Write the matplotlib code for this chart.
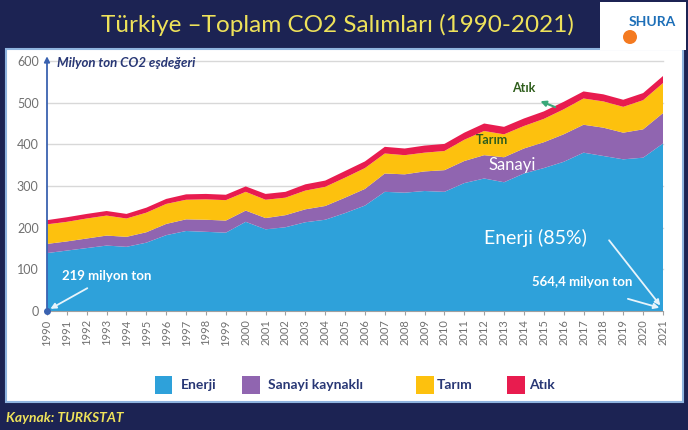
import matplotlib
matplotlib.use("Agg")
import matplotlib.pyplot as plt
from matplotlib.patches import Rectangle, Ellipse

plt.rcParams['font.family'] = ['Lato', 'DejaVu Sans']

# data (milyon ton CO2 esdegeri)
years = list(range(1990, 2022))
enerji = [139, 145, 151, 157, 154, 164, 182, 192, 190, 188, 214, 196, 201, 213, 219, 235,
          253, 286, 284, 288, 286, 307, 318, 309, 330, 343, 358, 380, 372, 364, 368, 402]
sanayi = [22, 22, 23, 24, 24, 25, 27, 28, 29, 29, 27, 27, 29, 31, 33, 37,
          40, 44, 44, 47, 52, 53, 56, 60, 60, 62, 66, 67, 68, 64, 68, 73]
tarim = [47, 47, 48, 48, 44, 47, 48, 47, 49, 49, 45, 44, 42, 45, 46, 48,
         50, 48, 46, 45, 46, 51, 58, 55, 54, 56, 60, 63, 63, 62, 70, 72]
atik = [10, 11, 11, 11, 11, 12, 12, 13, 13, 13, 13, 14, 14, 15, 15, 16,
        16, 16, 16, 17, 17, 17, 18, 18, 18, 18, 18, 17, 17, 17, 17, 17]

series_names = ['Enerji', 'Sanayi kaynaklı', 'Tarım', 'Atık']
colors = ['#2ea1da', '#9065b0', '#fdc10e', '#e81c4f']
navy = '#1c2353'
title_yellow = '#eee25a'
text_navy = '#283775'

W, H = 688, 430
fig = plt.figure(figsize=(W / 100, H / 100), dpi=100)
fig.patch.set_facecolor(navy)

def fx(px):
    return px / W

def fy(py):
    return 1 - py / H

# white panel
fig.patches.append(Rectangle((fx(6), fy(402)), fx(683) - fx(6), fy(49) - fy(402),
                             transform=fig.transFigure, facecolor='white',
                             edgecolor='#8fb4df', linewidth=1.5, zorder=0))
# logo box
fig.patches.append(Rectangle((fx(600), fy(50)), fx(686) - fx(600), fy(2) - fy(50),
                             transform=fig.transFigure, facecolor='white',
                             edgecolor='none', zorder=1))
fig.patches.append(Ellipse((fx(630), fy(37)), fx(14), 14 / H, transform=fig.transFigure,
                           facecolor='#f47a20', edgecolor='none', zorder=2))
fig.text(fx(652), fy(22), 'SHURA', color='#1d6fb8', fontsize=10, fontweight='bold',
         ha='center', va='center')

fig.text(fx(337), fy(25), 'Türkiye –Toplam CO2 Salımları (1990-2021)', color=title_yellow,
         fontsize=17.5, ha='center', va='center')

ax = fig.add_axes([fx(47), fy(311), fx(663) - fx(47), fy(61) - fy(311)])
ax.set_zorder(5)
ax.patch.set_alpha(0)
ax.stackplot(years, enerji, sanayi, tarim, atik, colors=colors, linewidth=0, zorder=2)
ax.set_xlim(1990, 2021)
ax.set_ylim(0, 600)
ax.set_yticks(range(0, 601, 100))
for v in range(100, 601, 100):
    ax.axhline(v, color='#d8d8d8', linewidth=1, zorder=1, clip_on=False)
ax.set_xticks(years)
ax.set_xticklabels([str(y) for y in years], rotation=90, fontsize=8, color='#707070')
ax.tick_params(axis='y', labelsize=9, labelcolor='#707070', length=0, pad=6)
ax.tick_params(axis='x', length=3, color='#a0a0a0', pad=3)
for s in ['top', 'right', 'left']:
    ax.spines[s].set_visible(False)
ax.spines['bottom'].set_color('#a0a0a0')

# blue y axis arrow
ax.annotate('', xy=(1990, 618), xytext=(1990, 0), annotation_clip=False,
            arrowprops=dict(arrowstyle='-|>', color='#3a62b0', lw=1.3, mutation_scale=8))
ax.plot([1990], [0], 'o', color='#3a62b0', markersize=4, clip_on=False, zorder=5)

ax.text(1990.5, 595, 'Milyon ton CO2 eşdeğeri', color=text_navy, fontsize=9.5,
        fontweight='bold', style='italic', va='center')

# annotations
ax.text(1990.75, 84, '219 milyon ton', color='white', fontsize=9.5, fontweight='bold', va='center')
ax.annotate('', xy=(1990.05, 2), xytext=(1992.15, 58),
            arrowprops=dict(arrowstyle='-|>', color='#e8f4fb', lw=1.3, mutation_scale=8))
ax.text(2014.6, 176, 'Enerji (85%)', color='white', fontsize=14, ha='center', va='center')
ax.annotate('', xy=(2020.95, 8), xytext=(2018.2, 175),
            arrowprops=dict(arrowstyle='-|>', color='#e8f4fb', lw=1.3, mutation_scale=8))
ax.text(2016.95, 70, '564,4 milyon ton', color='white', fontsize=9.5, fontweight='bold',
        ha='center', va='center')
ax.annotate('', xy=(2020.95, 6), xytext=(2019.1, 31),
            arrowprops=dict(arrowstyle='-|>', color='#e8f4fb', lw=1.3, mutation_scale=8))
ax.text(2013.4, 350, 'Sanayi', color='white', fontsize=12, ha='center', va='center')
ax.text(2012.4, 410, 'Tarım', color='#2f5e1c', fontsize=9, fontweight='bold',
        ha='center', va='center')
ax.text(2014.0, 535, 'Atık', color='#2f5e1c', fontsize=9, fontweight='bold',
        ha='center', va='center')
ax.annotate('', xy=(2014.7, 506), xytext=(2015.7, 487),
            arrowprops=dict(arrowstyle='-|>', color='#3aa87a', lw=1.5, mutation_scale=8))

# legend
leg_sq = [(155, 172), (242, 260), (416, 434), (507, 525)]
leg_tx = [181, 268, 437, 529]
for (x0, x1), tx, name, c in zip(leg_sq, leg_tx, series_names, colors):
    fig.patches.append(Rectangle((fx(x0), fy(394)), fx(x1) - fx(x0), fy(376) - fy(394),
                                 transform=fig.transFigure, facecolor=c, edgecolor='none',
                                 zorder=2))
    fig.text(fx(tx), fy(385), name, color=text_navy, fontsize=10, fontweight='bold',
             va='center')

fig.text(fx(6), fy(418), 'Kaynak: TURKSTAT', color=title_yellow, fontsize=10,
         fontweight='bold', style='italic', va='center')

fig.savefig('out.png', dpi=100, facecolor=navy)
